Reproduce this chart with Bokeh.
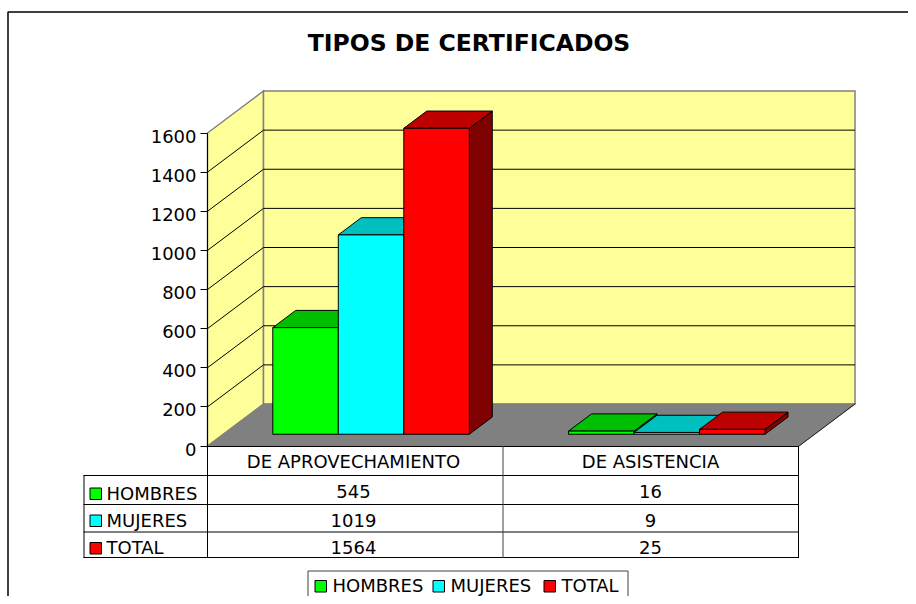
from bokeh.plotting import figure
from bokeh.models import LinearAxis, FixedTicker, Range1d
from bokeh.core.properties import value
from bokeh.embed import file_html
from bokeh.resources import INLINE

TITLE = "TIPOS DE CERTIFICADOS"
categories = ["DE APROVECHAMIENTO", "DE ASISTENCIA"]
series_names = ["HOMBRES", "MUJERES", "TOTAL"]
hombres = [545, 16]
mujeres = [1019, 9]
total = [1564, 25]
tick_values = [0, 200, 400, 600, 800, 1000, 1200, 1400, 1600]
front_colors = ["#00FF00", "#00FFFF", "#FF0000"]
top_colors = ["#00BF00", "#00BFBF", "#BF0000"]
side_colors = ["#007F00", "#007F7F", "#7F0000"]
series = [hombres, mujeres, total]

FONT = "DejaVu Sans"
W, H = 908, 596
Y0, PX_PER_UNIT = 445.5, 313.0 / 1600.0

def vy(page_y):
    return (Y0 - page_y) / PX_PER_UNIT

p = figure(width=W, height=H, output_backend="svg", toolbar_location=None,
           x_range=Range1d(0, W),
           y_range=Range1d(vy(H), vy(0)),
           x_axis_location=None, y_axis_location=None,
           min_border=0, min_border_left=0, min_border_right=0,
           min_border_top=0, min_border_bottom=0,
           outline_line_color=None, background_fill_color="white")
p.grid.visible = False
p.styles = {"margin-bottom": "-8px"}

WALL_X0, WALL_X1 = 207.0, 798.5
DX, DY = 56.0, 42.0 / PX_PER_UNIT
TOP = tick_values[-1]

def proj(x, v, d=0.0):
    return x + DX * d, v + DY * d

def poly(pts, fill, line="black", lw=1.0):
    xs = [q[0] for q in pts]
    ys = [q[1] for q in pts]
    p.patch(xs, ys, fill_color=fill, line_color=line, line_width=lw, line_join="miter")

def seg(x0, y0, x1, y1, color="black", lw=1.0):
    p.line([x0, x1], [y0, y1], line_color=color, line_width=lw, line_cap="square")

# chart frame
p.line([7.5, 7.5, W], [vy(H), vy(11.5), vy(11.5)], line_color="black", line_width=1.5)

# walls and floor
poly([proj(WALL_X0, 0), proj(WALL_X0, TOP), proj(WALL_X0, TOP, 1), proj(WALL_X0, 0, 1)], "#FFFF99", "#808080", 1.5)
poly([proj(WALL_X0, 0, 1), proj(WALL_X0, TOP, 1), proj(WALL_X1, TOP, 1), proj(WALL_X1, 0, 1)], "#FFFF99", "#808080", 1.5)
poly([proj(WALL_X0, 0), proj(WALL_X0, 0, 1), proj(WALL_X1, 0, 1), proj(WALL_X1, 0)], "#808080", "#808080", 1.0)
seg(*proj(WALL_X1, 0), *proj(WALL_X1, 0, 1), "#202020", 1.0)

# grid lines on both walls
for t in tick_values[1:-1]:
    a = proj(WALL_X0, t)
    b = proj(WALL_X0, t, 1)
    c = proj(WALL_X1, t, 1)
    p.line([a[0], b[0], c[0]], [a[1], b[1], c[1]], line_color="black", line_width=1.0)

# bars
CW = (WALL_X1 - WALL_X0) / len(categories)
BW = 0.2215 * CW
D0, D1 = 0.28, 0.69
for c in range(len(categories)):
    left = WALL_X0 + (c + 0.5) * CW - BW * len(series) / 2
    for s, vals in enumerate(series):
        v = vals[c]
        xl, xr = left + s * BW, left + (s + 1) * BW
        poly([proj(xr, 0, D0), proj(xr, v, D0), proj(xr, v, D1), proj(xr, 0, D1)], side_colors[s])
        poly([proj(xl, v, D0), proj(xr, v, D0), proj(xr, v, D1), proj(xl, v, D1)], top_colors[s])
        poly([proj(xl, 0, D0), proj(xr, 0, D0), proj(xr, v, D0), proj(xl, v, D0)], front_colors[s])

# value axis: line and ticks
axis = LinearAxis(fixed_location=WALL_X0, ticker=FixedTicker(ticks=tick_values), bounds=(0, TOP))
axis.axis_line_color = "black"
axis.major_tick_line_color = "black"
axis.major_tick_in = 0
axis.major_tick_out = 7
axis.minor_tick_line_color = None
axis.major_label_text_font_size = "0px"
axis.major_label_text_color = None
p.add_layout(axis, "left")

# value axis: labels, sitting 3 px under their ticks as in the reference
LABEL_SHIFT = 3.0 / PX_PER_UNIT
p.extra_y_ranges["labels"] = Range1d(p.y_range.start + LABEL_SHIFT, p.y_range.end + LABEL_SHIFT)
label_axis = LinearAxis(y_range_name="labels", fixed_location=WALL_X0,
                        ticker=FixedTicker(ticks=tick_values))
label_axis.axis_line_color = None
label_axis.major_tick_line_color = None
label_axis.major_tick_in = 0
label_axis.major_tick_out = 7
label_axis.minor_tick_line_color = None
label_axis.major_label_standoff = 4
label_axis.major_label_text_font = FONT
label_axis.major_label_text_font_size = "18px"
label_axis.major_label_text_color = "black"
p.add_layout(label_axis, "left")

# data table
T_L, T_C0, T_C1, T_C2 = 83.5, WALL_X0, 502.5, 798.0
R0, R1, R2, R3, R4 = 446, 475, 504, 531.5, 557
for y in (R0,):
    seg(T_C0, vy(y), T_C2, vy(y))
for y in (R1, R2, R3, R4):
    seg(T_L, vy(y), T_C2, vy(y))
seg(T_L, vy(R1), T_L, vy(R4))
seg(T_C0, vy(R0), T_C0, vy(R4))
seg(T_C1, vy(R0), T_C1, vy(R4), "#404040")
seg(T_C2, vy(R0), T_C2, vy(R4))

def txt(x, base_y, s, align="center", size=18, style="normal"):
    # base_y is the baseline; the text is anchored on its cap centre
    p.text([x], [vy(base_y - 0.36 * size)], text=[s], text_font=value(FONT), text_font_size=f"{size}px",
           text_font_style=style, text_align=align, text_baseline="middle", text_color="black")

def swatch(x, page_y, color):
    s = 11.5
    poly([(x, vy(page_y)), (x + s, vy(page_y)), (x + s, vy(page_y + s)), (x, vy(page_y + s))], color, "black", 1.0)

centers = [353, 650]
for c, name in enumerate(categories):
    txt(centers[c], 467.5, name)

row_base = [499, 526, 553]
val_base = [497.5, 526, 553]
swatch_top = [487.5, 514.5, 542]
for s, name in enumerate(series_names):
    swatch(89.5, swatch_top[s], front_colors[s])
    txt(106, row_base[s], name, "left")
    for c in range(len(categories)):
        txt(centers[c], val_base[s], str(series[s][c]))

# legend
LEG = -5
p.line([307.5, 307.5, 627.5, 627.5], [vy(H), vy(575.5 + LEG), vy(575.5 + LEG), vy(H)], line_color="#404040", line_width=1.0)
for x_sw, x_txt, name, col in zip([314.5, 432.5, 543.5], [332, 450, 561], series_names, front_colors):
    swatch(x_sw, 585 + LEG, col)
    txt(x_txt, 596 + LEG, name, "left")

# title
txt(468.5, 51, TITLE, "center", 23.5, "bold")

open("out.html", "w").write(file_html(p, INLINE))
